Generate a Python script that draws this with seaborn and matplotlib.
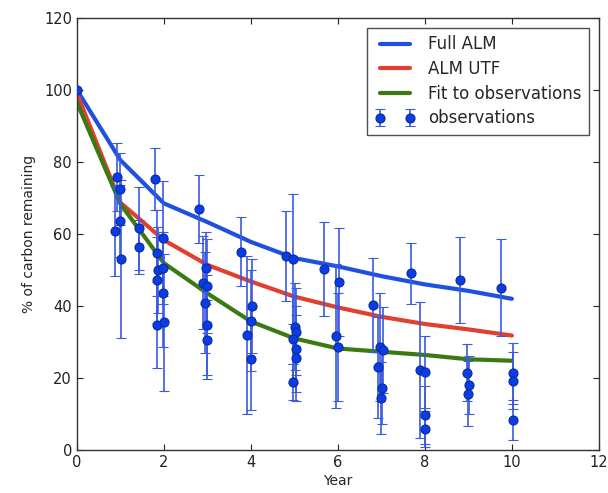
import numpy as np
import pandas as pd
import matplotlib
matplotlib.use("Agg")
import matplotlib.pyplot as plt
import seaborn as sns

# ---- model curves (yearly) ----
years = [0, 1, 2, 3, 4, 5, 6, 7, 8, 9, 10]
full_alm = [100, 80.5, 68.5, 63.3, 57.8, 53.3, 51.0, 48.3, 46.0, 44.2, 42.0]
alm_utf = [99, 68.7, 58.3, 51.4, 46.8, 42.6, 39.6, 37.0, 35.0, 33.5, 31.8]
fit_obs = [96.5, 68.3, 51.9, 43.5, 35.7, 31.0, 28.2, 27.3, 26.4, 25.2, 24.8]

# ---- observations ----
obs_x = [0.0,
         0.87, 0.93, 0.99, 1.00, 1.01, 1.43, 1.43,
         1.79, 1.85, 1.87, 1.85, 1.85, 1.97, 1.97, 1.97, 2.00,
         2.81, 2.96, 2.90, 2.99, 2.94, 2.99, 2.99,
         3.76, 4.02, 4.00, 3.92, 4.00,
         4.80, 4.96, 5.01, 5.04, 4.96, 5.04, 5.04, 4.96,
         5.68, 6.02, 5.95, 6.01,
         6.81, 6.97, 7.04, 6.93, 7.01, 6.99,
         7.67, 7.89, 8.00, 8.00, 8.00,
         8.80, 8.96, 9.01, 8.98,
         9.74, 10.02, 10.02, 10.02]
obs_y = [100.0,
         60.8, 75.9, 72.5, 63.5, 53.0, 61.6, 56.5,
         75.3, 54.7, 50.0, 47.2, 34.7, 58.8, 50.5, 43.7, 35.5,
         66.9, 50.6, 46.5, 45.6, 40.9, 34.7, 30.6,
         55.1, 40.0, 35.9, 31.9, 25.2,
         53.9, 53.0, 34.3, 32.9, 30.7, 28.0, 25.5, 19.0,
         50.2, 46.8, 31.7, 28.5,
         40.3, 28.7, 27.8, 23.0, 17.1, 14.4,
         49.1, 22.2, 21.6, 9.7, 5.7,
         47.2, 21.5, 18.1, 15.6,
         45.1, 21.3, 19.3, 8.3]
obs_err = [0.0,
           12.5, 9.5, 10.0, 10.0, 22.0, 11.5, 7.5,
           8.5, 12.0, 12.0, 12.0, 12.0, 16.0, 10.0, 15.0, 19.0,
           9.5, 10.0, 13.0, 13.0, 14.0, 14.0, 11.0,
           9.5, 13.0, 14.0, 22.0, 14.0,
           12.5, 18.0, 12.0, 12.0, 12.0, 12.0, 12.0, 5.0,
           13.0, 15.0, 20.0, 15.0,
           13.0, 15.0, 12.0, 14.0, 10.0, 10.0,
           8.5, 19.0, 10.0, 8.0, 5.0,
           12.0, 8.0, 8.0, 9.0,
           13.5, 8.5, 8.0, 5.5]

sns.set_style("ticks")
plt.rcParams["font.family"] = ["DejaVu Sans"]
plt.rcParams["xtick.direction"] = "in"
plt.rcParams["ytick.direction"] = "in"

fig = plt.figure(figsize=(6.08, 4.93), dpi=100)
ax = fig.add_axes([0.1266, 0.0872, 0.8584, 0.8763])

curves = pd.DataFrame({"Year": years * 3,
                       "value": full_alm + alm_utf + fit_obs,
                       "model": ["Full ALM"] * len(years) + ["ALM UTF"] * len(years)
                                + ["Fit to observations"] * len(years)})
palette = {"Full ALM": "#1f50e0", "ALM UTF": "#e0402f", "Fit to observations": "#3b7a12"}
sns.lineplot(data=curves, x="Year", y="value", hue="model", palette=palette,
             linewidth=3, ax=ax, legend=False, zorder=2)
for name, col in palette.items():
    ax.plot([], [], color=col, lw=3, label=name)

ax.errorbar(obs_x, obs_y, yerr=obs_err, fmt="o", color="#1d44e0",
            ecolor="#3a5be0", elinewidth=1.2, capsize=3.5, capthick=1.0,
            markersize=6.5, markerfacecolor="#0b3ce6", markeredgecolor="#0a2a9a",
            markeredgewidth=0.8, label="observations", zorder=3)

ax.set_xlim(0, 12)
ax.set_ylim(0, 120)
ax.set_xticks([0, 2, 4, 6, 8, 10, 12])
ax.set_yticks([0, 20, 40, 60, 80, 100, 120])
ax.tick_params(axis="both", which="both", top=True, right=True, labelsize=10.5,
               length=4, width=0.8, colors="#222222")
for s in ax.spines.values():
    s.set_visible(True)
    s.set_color("#333333")
    s.set_linewidth(1.0)
ax.set_xlabel("Year", fontsize=10, labelpad=3)
ax.set_ylabel("% of carbon remaining", fontsize=10, labelpad=6)

leg = ax.legend(loc="upper right", numpoints=2, fontsize=12, frameon=True,
                fancybox=False, edgecolor="#222222", borderaxespad=0.6,
                handlelength=2.4, labelspacing=0.4, borderpad=0.45)
leg.get_frame().set_linewidth(1.0)

fig.savefig("out.png", dpi=100)
